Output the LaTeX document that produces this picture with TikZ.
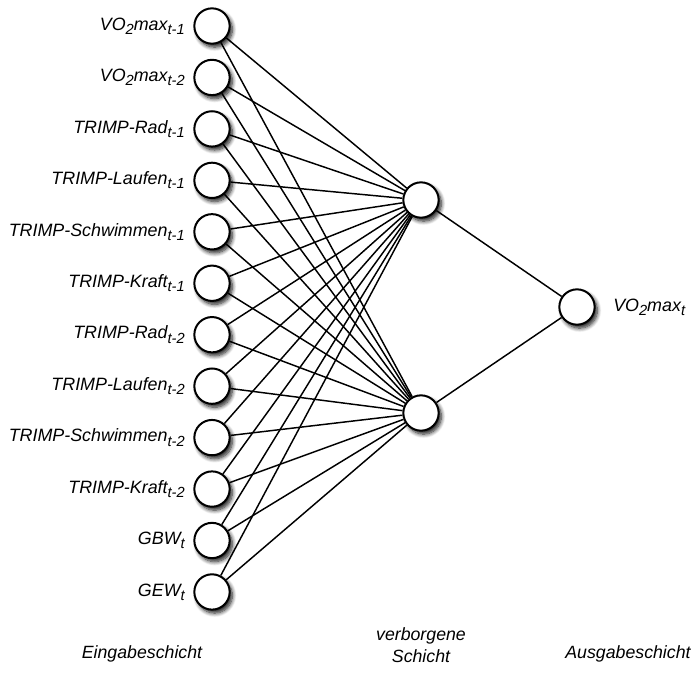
\documentclass[tikz,border=0pt]{standalone}
\usepackage{fontspec}
\setmainfont{Liberation Sans}
\usetikzlibrary{shadows.blur,backgrounds}
\newcommand\lsub[1]{\raisebox{-0.45ex}{\fontsize{11}{12}\selectfont #1}}
\begin{document}
\begin{tikzpicture}[x=0.75pt,y=-0.75pt,
  neuron/.style={circle,draw=black,line width=1.5pt,fill=white,minimum size=26.5pt,inner sep=0pt,
    blur shadow={shadow xshift=2pt,shadow yshift=-2.6pt,shadow blur steps=8,shadow blur radius=3pt,shadow opacity=90}},
  lbl/.style={font=\fontsize{13.4}{16}\selectfont\itshape,inner sep=0pt},
  link/.style={line width=1.1pt,black},
  layer/.style={font=\fontsize{13.3}{17}\selectfont\itshape,align=center,inner sep=0pt}]
\useasboundingbox (0,0) rectangle (692,672);

% input layer
\foreach \i/\t in {1/{VO\lsub{2}max\lsub{t-1}},
                   2/{VO\lsub{2}max\lsub{t-2}},
                   3/{TRIMP-Rad\lsub{t-1}},
                   4/{TRIMP-Laufen\lsub{t-1}},
                   5/{TRIMP-Schwimmen\lsub{t-1}},
                   6/{TRIMP-Kraft\lsub{t-1}},
                   7/{TRIMP-Rad\lsub{t-2}},
                   8/{TRIMP-Laufen\lsub{t-2}},
                   9/{TRIMP-Schwimmen\lsub{t-2}},
                   10/{TRIMP-Kraft\lsub{t-2}},
                   11/{GBW\lsub{t}},
                   12/{GEW\lsub{t}}}{
  \node[neuron] (in\i) at (212,{26+(\i-1)*51.45}) {};
  \node[lbl,anchor=east] (tin\i) at (185,{26+(\i-1)*51.45}) {\t};
}

% hidden and output layers
\node[neuron] (h1) at (421,200) {};
\node[neuron] (h2) at (421,413) {};
\node[neuron] (out) at (577,307) {};
\node[lbl,anchor=west] (tout) at (613,307) {VO\lsub{2}max\lsub{t}};

% connections, kept behind the neurons
\begin{pgfonlayer}{background}
\foreach \i in {1,...,12}{
  \draw[link] (in\i) -- (h1);
  \draw[link] (in\i) -- (h2);
}
\draw[link] (h1) -- (out);
\draw[link] (h2) -- (out);
\end{pgfonlayer}

% layer captions
\node[layer] (cin) at (142,654) {Eingabeschicht};
\node[layer] (chid) at (421,645) {verborgene\\Schicht};
\node[layer] (cout) at (628,654) {Ausgabeschicht};
\end{tikzpicture}
\end{document}
